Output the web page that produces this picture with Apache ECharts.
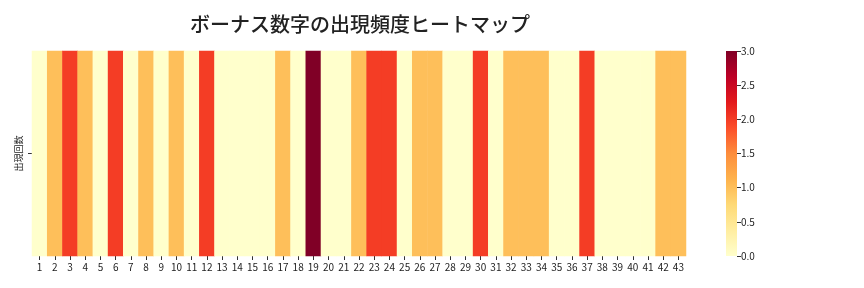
<!DOCTYPE html>
<html><head><meta charset="utf-8">
<script src="https://cdn.jsdelivr.net/npm/echarts@6/dist/echarts.min.js"></script>
<style>html,body{margin:0;padding:0;background:#fff}#c{width:864px;height:288px}</style>
</head><body><div id="c"></div>
<script>
const categories = ['1','2','3','4','5','6','7','8','9','10','11','12','13','14','15','16','17','18','19','20','21','22','23','24','25','26','27','28','29','30','31','32','33','34','35','36','37','38','39','40','41','42','43'];
const rowLabels = ['出現回数'];
const counts = [0,1,2,1,0,2,0,1,0,1,0,2,0,0,0,0,1,0,3,0,0,1,2,2,0,1,1,0,0,2,0,1,1,1,0,0,2,0,0,0,0,1,1];
const colorbarTicks = [0,0.5,1,1.5,2,2.5,3];
const palette = ['#ffffcc','#ffeda0','#fed976','#feb24c','#fd8d3c','#fc4e2a','#e31a1c','#bd0026','#800026'];
const font = '"Noto Sans CJK JP","Noto Sans",sans-serif';

const heatData = counts.map((v,i)=>[i,0,v]);
const chart = echarts.init(document.getElementById('c'));
chart.setOption({
  animation:false,
  title:{text:'ボーナス数字の出現頻度ヒートマップ',left:355,top:9,textAlign:'center',
    textStyle:{fontFamily:font,fontSize:20,fontWeight:500,color:'#222'}},
  grid:[{left:32,top:51,width:654,height:205},{left:726,top:51,width:11,height:205}],
  xAxis:[{type:'category',gridIndex:0,data:categories,axisLine:{show:false},
      axisTick:{show:true,alignWithLabel:true,length:4,lineStyle:{color:'#333'}},
      axisLabel:{fontFamily:font,fontSize:10,color:'#222',margin:6,interval:0},splitLine:{show:false}},
    {type:'category',gridIndex:1,data:[''],show:false}],
  yAxis:[{type:'category',gridIndex:0,data:rowLabels,axisLine:{show:false},
      axisTick:{show:true,alignWithLabel:true,length:4,lineStyle:{color:'#333'}},
      axisLabel:{fontFamily:font,fontSize:9,color:'#222',rotate:90,margin:9},splitLine:{show:false}},
    {type:'value',gridIndex:1,position:'right',min:0,max:3,interval:0.5,
      axisLine:{show:false},axisTick:{show:true,length:4,lineStyle:{color:'#333'}},
      axisLabel:{fontFamily:font,fontSize:10,color:'#222',margin:4,formatter:v=>v.toFixed(1)},
      splitLine:{show:false}}],
  visualMap:{type:'continuous',min:0,max:3,show:false,seriesIndex:0,inRange:{color:palette}},
  series:[{type:'heatmap',xAxisIndex:0,yAxisIndex:0,data:heatData,itemStyle:{borderWidth:0}},
    {type:'bar',xAxisIndex:1,yAxisIndex:1,data:[colorbarTicks[colorbarTicks.length-1]],barWidth:'100%',silent:true,
      itemStyle:{color:new echarts.graphic.LinearGradient(0,1,0,0,palette.map((c,i)=>({offset:i/(palette.length-1),color:c})))}}]
});
</script></body></html>
